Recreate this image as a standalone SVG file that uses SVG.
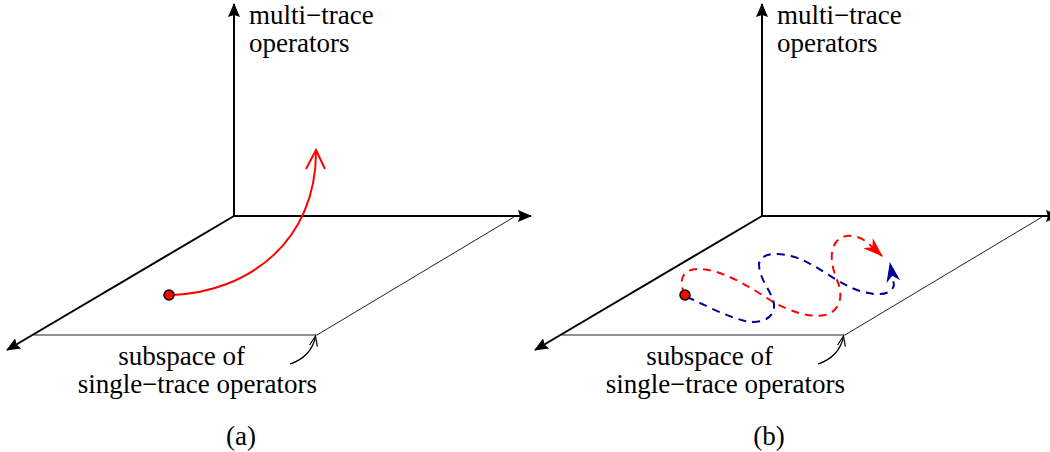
<svg xmlns="http://www.w3.org/2000/svg" width="1050" height="452" viewBox="0 0 1050 452">
<style>
text{font-family:"Liberation Serif","Times New Roman",serif;font-size:27px;fill:#000}
.axis{stroke:#000;stroke-width:2;fill:none}
.plane{stroke:#222;stroke-width:1;fill:none}
.red{stroke:#ff0000;stroke-width:2;fill:none}
.rdash{stroke:#ff0000;stroke-width:2;fill:none;stroke-dasharray:8,6}
.bdash{stroke:#000099;stroke-width:2;fill:none;stroke-dasharray:8,6}
.thin{stroke:#000;stroke-width:1.2;fill:none}
</style>
<defs>
<marker id="ah" viewBox="0 0 14 12" refX="13" refY="6" markerWidth="14" markerHeight="12" markerUnits="userSpaceOnUse" orient="auto">
<path d="M0,0 L14,6 L0,12 L2,6 Z" fill="#000" stroke="none"/>
</marker>
<marker id="ahr" viewBox="0 0 20 14" refX="19" refY="7" markerWidth="20" markerHeight="14" markerUnits="userSpaceOnUse" orient="auto">
<path d="M0,0 L20,7 L0,14 L6,7 Z" fill="#ff0000" stroke="none"/>
</marker>
<marker id="ahb" viewBox="0 0 20 14" refX="19" refY="7" markerWidth="20" markerHeight="14" markerUnits="userSpaceOnUse" orient="auto">
<path d="M0,0 L20,7 L0,14 L6,7 Z" fill="#000099" stroke="none"/>
</marker>
</defs>

<g id="panel-a">
<g id="a-axes">
<line class="axis" x1="234" y1="216" x2="234" y2="4" marker-end="url(#ah)"/>
<line class="axis" x1="234" y1="216" x2="531" y2="216" marker-end="url(#ah)"/>
<line class="axis" x1="234" y1="216" x2="7" y2="350" marker-end="url(#ah)"/>
</g>
<g id="a-plane">
<polyline class="plane" points="34,335 317,335 514,217"/>
</g>
<g id="a-pointer">
<path class="thin" d="M290,364 C302,360 312,352 315.5,337"/>
<polyline class="thin" points="309.6,345 315.5,336 317.4,346.6"/>
</g>
<g id="a-flow">
<path class="red" d="M172,295 C250,292 316,240 316,152"/>
<polyline class="red" points="306,169 316,150 325,169"/>
<circle cx="169" cy="295" r="5" fill="#ff0000" stroke="#000" stroke-width="1.5"/>
</g>
<g id="a-labels">
<text x="249" y="24">multi−trace</text>
<text x="249" y="52">operators</text>
<text x="245" y="365" text-anchor="end">subspace of</text>
<text x="317" y="393" text-anchor="end">single−trace operators</text>
<text x="241" y="445" text-anchor="middle">(a)</text>
</g>
</g>

<g id="panel-b">
<g id="b-axes">
<line class="axis" x1="762" y1="216" x2="762" y2="4" marker-end="url(#ah)"/>
<line class="axis" x1="762" y1="216" x2="1059" y2="216" marker-end="url(#ah)"/>
<line class="axis" x1="762" y1="216" x2="535" y2="350" marker-end="url(#ah)"/>
</g>
<g id="b-plane">
<polyline class="plane" points="562,335 845,335 1042,217"/>
</g>
<g id="b-pointer">
<path class="thin" d="M818,364 C830,360 840,352 843.5,337"/>
<polyline class="thin" points="837.6,345 843.5,336 845.4,346.6"/>
</g>
<g id="b-flows">
<path class="rdash" d="M685,295 C679,283 680,270 697,269 C720,268 750,287 770,300 C790,312 810,318 825,315 C842,311 843,293 837,280 C831,265 829,250 837,241 C845,232 860,236 868,243 L882,256" marker-end="url(#ahr)"/>
<path class="bdash" d="M687,297 C705,305 725,316 745,321 C765,325 778,315 773,300 C770,290 759,278 759,264 C761,250 785,253 800,259 C820,267 840,285 860,291 C880,297 892,294 894,285 L890,263" marker-end="url(#ahb)"/>
<circle cx="685" cy="295" r="5" fill="#ff0000" stroke="#000" stroke-width="1.5"/>
</g>
<g id="b-labels">
<text x="777" y="24">multi−trace</text>
<text x="777" y="52">operators</text>
<text x="773" y="365" text-anchor="end">subspace of</text>
<text x="845" y="393" text-anchor="end">single−trace operators</text>
<text x="769" y="445" text-anchor="middle">(b)</text>
</g>
</g>
</svg>
